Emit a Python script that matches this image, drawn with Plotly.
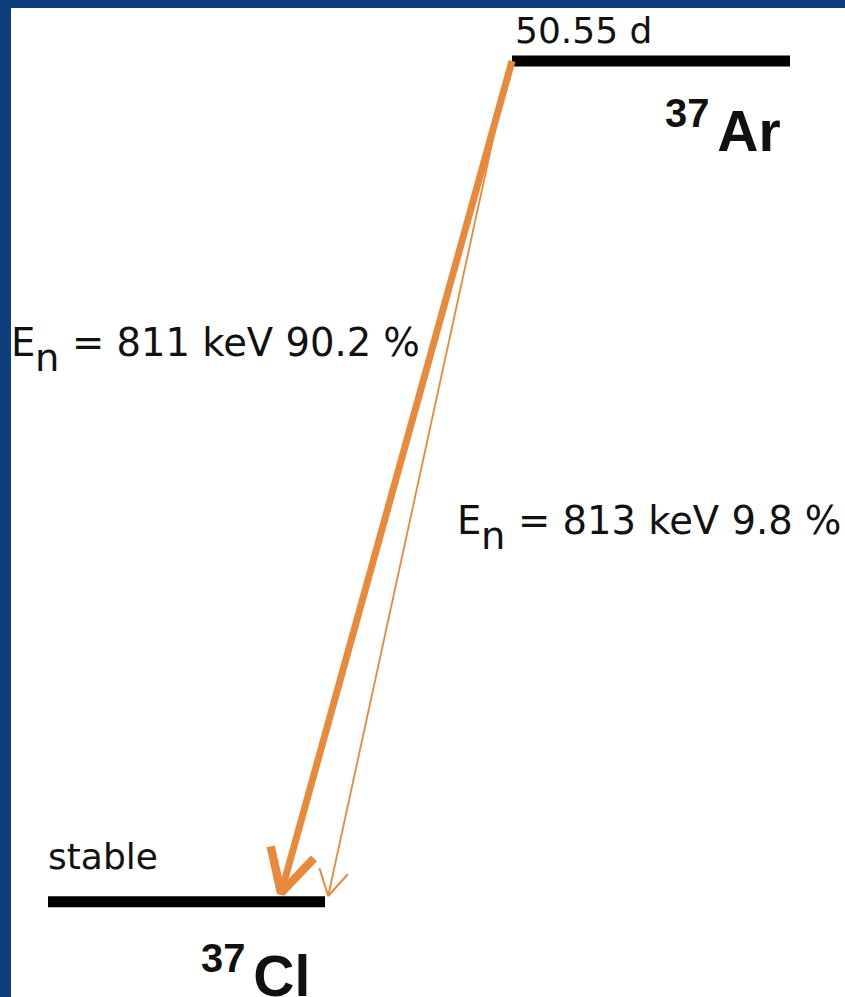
import math
import plotly.graph_objects as go

# ---- decay data: 37Ar -> 37Cl by electron capture ----
level_names = ["37Ar", "37Cl"]
level_mass = ["37", "37"]
level_symbol = ["Ar", "Cl"]
level_energy_kev = [813.0, 0.0]
level_labels = ["50.55 d", "stable"]

branch_energy_kev = [811, 813]
branch_intensity_pct = [90.2, 9.8]

# ---- canvas / axis geometry ----
W, H = 845, 997
X_RANGE = [0, 845]
Y_RANGE = [-92.0, 872.0]          # keV

BLUE = "#0e3f7c"
ORANGE = "#E9893B"
REG_FONT = "DejaVu Sans"
BOLD_FONT = "Liberation Sans"

# DejaVu Sans advance widths (em) used to lay out the E_n labels
ADV_E, ADV_N, ADV_SPACE = 0.6318, 0.6338, 0.3179
ASCENT_DEJAVU = 0.928


def px_per_x():
    return W / (X_RANGE[1] - X_RANGE[0])


def px_per_kev():
    return H / (Y_RANGE[1] - Y_RANGE[0])


def to_px(x, e):
    return (x - X_RANGE[0]) * px_per_x(), (Y_RANGE[1] - e) * px_per_kev()


def from_px(px, py):
    return X_RANGE[0] + px / px_per_x(), Y_RANGE[1] - py / px_per_kev()


def kev_at_px(py):
    return from_px(0, py)[1]


# horizontal extent of each level bar (diagram units)
level_span = {"37Ar": (512, 790), "37Cl": (48, 325)}

fig = go.Figure()

# level bars
for name, e in zip(level_names, level_energy_kev):
    x0, x1 = level_span[name]
    fig.add_trace(go.Scatter(
        x=[x0, x1], y=[e, e], mode="lines",
        line=dict(color="black", width=11),
        hoverinfo="skip", showlegend=False,
    ))


def arrow(x0, e0, x1, e1, width, head_len, half_angle, head_width):
    """Shaft plus an open V head, built in pixel space then mapped back."""
    p0 = to_px(x0, e0)
    p1 = to_px(x1, e1)
    dx, dy = p1[0] - p0[0], p1[1] - p0[1]
    L = math.hypot(dx, dy)
    ux, uy = dx / L, dy / L
    a = math.radians(half_angle)
    miter = head_width / (2 * math.sin(a))
    vx, vy = p1[0] - ux * miter * 0.45, p1[1] - uy * miter * 0.45
    wings = []
    for s in (-1, 1):
        ca, sa = math.cos(s * a), math.sin(s * a)
        bx, by = -ux, -uy
        rx, ry = bx * ca - by * sa, bx * sa + by * ca
        wings.append((vx + rx * head_len, vy + ry * head_len))
    shaft_end = (vx - ux * head_width, vy - uy * head_width)
    shaft = [from_px(*p0), from_px(*shaft_end)]
    head = [from_px(*wings[0]), from_px(vx, vy), from_px(*wings[1])]
    traces = []
    for pts, lw in ((shaft, width), (head, head_width)):
        traces.append(go.Scatter(
            x=[p[0] for p in pts], y=[p[1] for p in pts], mode="lines",
            line=dict(color=ORANGE, width=lw),
            hoverinfo="skip", showlegend=False,
        ))
    return traces


ar_left = level_span["37Ar"][0]
cl_right = level_span["37Cl"][1]
bar_half_kev = 5.0 / px_per_kev()
start_x = [ar_left, ar_left - 2]
tip_x = [cl_right - 45, cl_right + 3]
for sx, tx, inten in zip(start_x, tip_x, branch_intensity_pct):
    w = 1.2 + 0.064 * inten
    hw = 1.2 + 0.08 * inten
    hl = 27 + 0.23 * inten
    ang = 30 - 0.022 * inten
    for t in arrow(sx, level_energy_kev[0], tx, level_energy_kev[1] + bar_half_kev,
                   w, hl, ang, hw):
        fig.add_trace(t)

annotations = []


def label(text, x, top_px, size, family, weight="normal", anchor="left"):
    annotations.append(dict(
        text=text, x=x, y=kev_at_px(top_px), xref="x", yref="y",
        xanchor=anchor, yanchor="top", showarrow=False,
        font=dict(family=family, size=size, color="#111111", weight=weight),
    ))


# half-life / stability labels above the levels
label(level_labels[0], 513, 8, 36, REG_FONT)
label(level_labels[1], 46, 834, 36, REG_FONT)

# nuclide symbols
label(f"<sup>{level_mass[0]}\u2009</sup>{level_symbol[0]}", 783, 89, 57, BOLD_FONT,
      weight="bold", anchor="right")
label(f"<sup>{level_mass[1]}\u2009</sup>{level_symbol[1]}", 199, 934, 57, BOLD_FONT,
      weight="bold")

# branch labels: "E" with a lowered "n", then the value text
FS = 38.5
SUB_DROP = 15
branch_pos = [(9, 355), (455, 533)]           # left edge, baseline (px)
for (bx, base), en, inten in zip(branch_pos, branch_energy_kev, branch_intensity_pct):
    top = base - ASCENT_DEJAVU * FS - 1
    label("E", bx, top, FS, REG_FONT)
    label("n", bx + ADV_E * FS, top + SUB_DROP, FS, REG_FONT)
    label(f"= {en} keV {inten:g} %", bx + (ADV_E + ADV_N + ADV_SPACE) * FS, top,
          FS, REG_FONT)

fig.update_layout(
    width=W, height=H,
    margin=dict(l=0, r=0, t=0, b=0),
    paper_bgcolor=BLUE,
    plot_bgcolor="rgba(0,0,0,0)",
    xaxis=dict(range=X_RANGE, visible=False, fixedrange=True),
    yaxis=dict(range=Y_RANGE, visible=False, fixedrange=True),
    annotations=annotations,
    shapes=[dict(
        type="rect", xref="paper", yref="paper",
        x0=11 / W, x1=1, y0=0, y1=1 - 8 / H,
        fillcolor="white", line=dict(width=0), layer="below",
    )],
)

fig.write_html("out.html")
